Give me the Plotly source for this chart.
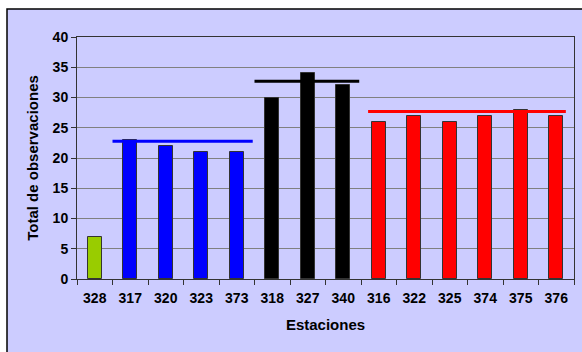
import plotly.graph_objects as go

# Stations and observation totals
estaciones = ["328", "317", "320", "323", "373", "318", "327", "340",
              "316", "322", "325", "374", "375", "376"]
observaciones = [7, 23, 22, 21, 21, 30, 34, 32, 26, 27, 26, 27, 28, 27]
colores = ["#99CC00"] + ["#0000FF"] * 4 + ["#000000"] * 3 + ["#FF0000"] * 6

# Group reference levels: (start index, end index, level, colour)
grupos_inicio = [0.5, 4.5, 7.7]
grupos_fin = [4.45, 7.45, 13.27]
grupos_nivel = [22.75, 32.7, 27.7]
grupos_color = ["#0000FF", "#000000", "#FF0000"]

FONT = "Liberation Sans, Arial, sans-serif"

fig = go.Figure()
fig.add_trace(go.Bar(
    x=list(range(len(estaciones))),
    y=observaciones,
    width=0.4,
    marker=dict(color=colores, line=dict(color="#333333", width=1)),
    showlegend=False,
    hoverinfo="x+y",
))

for x0, x1, nivel, color in zip(grupos_inicio, grupos_fin, grupos_nivel, grupos_color):
    fig.add_trace(go.Scatter(
        x=[x0, x1], y=[nivel, nivel], mode="lines",
        line=dict(color=color, width=3), showlegend=False, hoverinfo="skip",
    ))

W, H = 582, 352
ml, mr, mt, mb = 77, 8, 37, 73
pw, ph = W - ml - mr, H - mt - mb

# Lavender chart frame with a black border on the top and left
fig.add_shape(type="rect", xref="paper", yref="paper",
              x0=(7 - ml) / pw, x1=(W + 5 - ml) / pw,
              y0=-(H + 5 - mt - ph) / ph, y1=(H - 9 - mb) / ph,
              fillcolor="#CCCCFF", line=dict(color="#000000", width=1.5),
              layer="below")

fig.update_layout(
    width=W, height=H,
    margin=dict(l=ml, r=mr, t=mt, b=mb),
    paper_bgcolor="#FFFFFF",
    plot_bgcolor="#FFFFCC",
    font=dict(family=FONT, color="#000000"),
    bargap=0,
)

fig.update_xaxes(
    range=[-0.5, len(estaciones) - 0.5],
    tickvals=list(range(len(estaciones))),
    ticktext=estaciones,
    ticks="",
    showgrid=False,
    zeroline=False,
    tickfont=dict(size=14, family=FONT, weight="bold"),
    ticklabelstandoff=6,
    minor=dict(tick0=-0.5, dtick=1, ticks="outside", ticklen=5,
               tickcolor="#333333", showgrid=False),
    showline=True, linecolor="#333333", linewidth=1, mirror=True,
    title=dict(text="Estaciones", font=dict(size=15, family=FONT, weight="bold"),
               standoff=14),
)

fig.update_yaxes(
    range=[0, 40],
    dtick=5,
    ticks="outside", ticklen=5, tickcolor="#333333",
    showgrid=True, gridcolor="#808080", gridwidth=1,
    zeroline=False,
    tickfont=dict(size=14, family=FONT, weight="bold"),
    showline=True, linecolor="#333333", linewidth=1, mirror=True,
    title=dict(text="Total de observaciones",
               font=dict(size=15, family=FONT, weight="bold"), standoff=10),
)

fig.write_html("out.html")
